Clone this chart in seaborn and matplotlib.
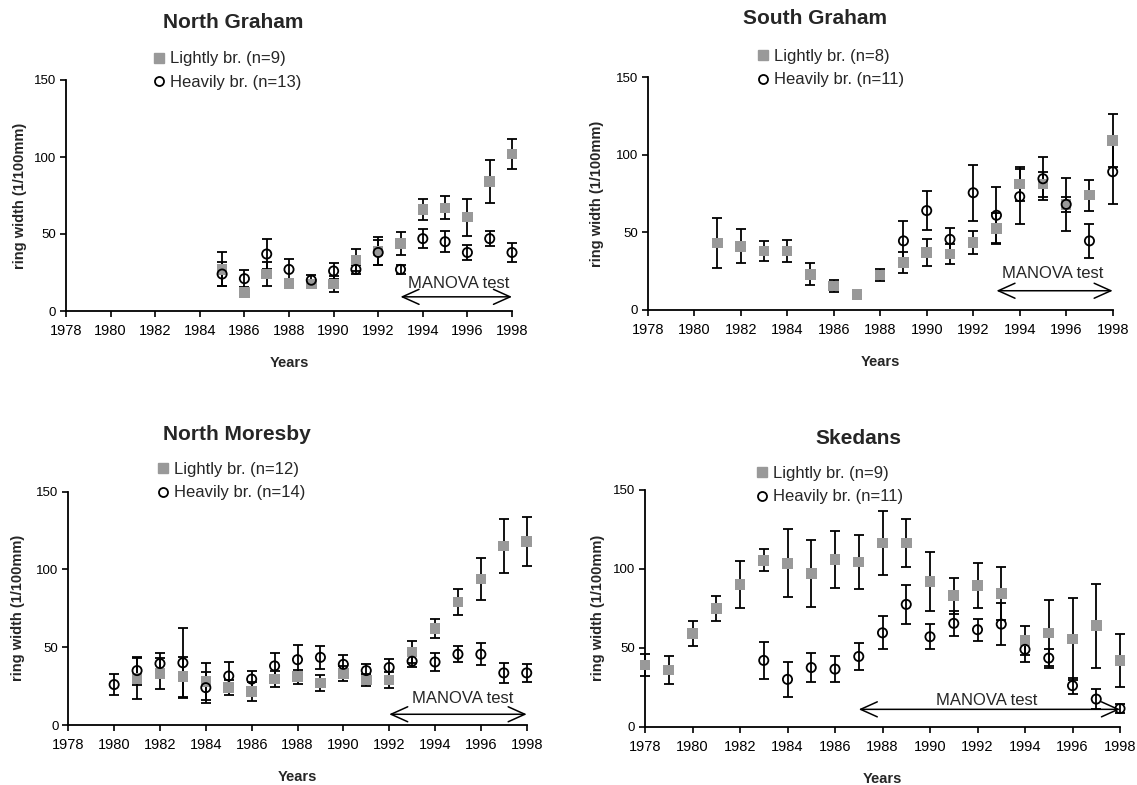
import numpy as np
import seaborn as sns
import matplotlib.pyplot as plt
from matplotlib.lines import Line2D

# North Graham
ng_years_l = [1985, 1986, 1987, 1988, 1989, 1990, 1991, 1992, 1993, 1994, 1995, 1996, 1997, 1998]
ng_light = [27, 12, 24, 18, 17.5, 17.5, 33, 39, 44, 66, 67, 61, 84, 102]
ng_light_err = [11, 1, 8, 2, 2, 5, 7, 9, 7.5, 7, 7.5, 12, 14, 10]
ng_years_h = [1985, 1986, 1987, 1988, 1989, 1990, 1991, 1992, 1993, 1994, 1995, 1996, 1997, 1998]
ng_heavy = [24, 21, 37, 27, 20, 26, 27, 38, 27, 47, 45, 38, 47, 38]
ng_heavy_err = [8, 5.5, 10, 7, 3.5, 5, 3, 8, 3, 6, 7, 5, 5, 6]

# South Graham
sg_years_l = [1981, 1982, 1983, 1984, 1985, 1986, 1987, 1988, 1989, 1990, 1991, 1992, 1993,
              1994, 1995, 1996, 1997, 1998]
sg_light = [43, 41, 38, 38, 23, 15.5, 10, 22.5, 30.5, 37, 36, 43.5, 52.5, 81, 81, 68, 74, 109]
sg_light_err = [16, 11, 6.5, 7, 7, 4, 0.5, 4, 7, 8.5, 6.5, 7.5, 10, 11, 8, 5, 10, 17]
sg_years_h = [1989, 1990, 1991, 1992, 1993, 1994, 1995, 1996, 1997, 1998]
sg_heavy = [44.5, 64, 45.5, 75.5, 61, 73, 84.5, 68, 44.5, 89]
sg_heavy_err = [12.5, 12.5, 7, 18, 18, 17.5, 14, 17, 11, 21]

# North Moresby
nm_years_l = [1981, 1982, 1983, 1984, 1985, 1986, 1987, 1988, 1989, 1990, 1991, 1992, 1993,
              1994, 1995, 1996, 1997, 1998]
nm_light = [30, 33, 31, 28, 24, 21.5, 29.5, 31, 27, 33, 29, 29, 47, 62, 79, 94, 115, 118]
nm_light_err = [13, 10, 13, 12, 5, 6, 5, 4.5, 5, 5, 4, 5, 7, 6, 8.5, 13.5, 17.5, 16]
nm_years_h = [1980, 1981, 1982, 1983, 1984, 1985, 1986, 1987, 1988, 1989, 1990, 1991, 1992,
              1993, 1994, 1995, 1996, 1997, 1998]
nm_heavy = [26, 35, 39.5, 40, 24, 31.5, 29.5, 38, 42, 43.5, 39, 35, 37, 41, 40.5, 45.5, 45.5, 33.5, 33.5]
nm_heavy_err = [7, 9, 6.5, 22.5, 10, 9, 5, 8, 9.5, 7.5, 6, 4, 5.5, 4, 5.5, 5, 7, 6.5, 6]

# Skedans
sk_years_l = list(range(1978, 1999))
sk_light = [39, 36, 59, 75, 90, 105.5, 103.5, 97, 106, 104.5, 116.5, 116.5, 92, 83, 89.5, 84.5,
            54.5, 59.5, 55.5, 64, 42]
sk_light_err = [7, 9, 8, 8, 15, 7, 21.5, 21, 18, 17, 20.5, 15, 18.5, 11.5, 14, 17, 9, 21, 26, 26.5, 17]
sk_years_h = list(range(1983, 1999))
sk_heavy = [42, 30, 37.5, 36.5, 44.5, 59.5, 77.5, 57, 65.5, 61.5, 65, 49, 43.5, 26, 17.5, 11.5]
sk_heavy_err = [11.5, 11, 9, 8, 8.5, 10.5, 12.5, 8, 8, 7, 13.5, 8, 6, 5, 6.5, 3]

W, H = 1137, 785
GREY = "#999999"

sns.set_style("ticks")
plt.rcParams["font.family"] = ["Liberation Sans", "DejaVu Sans"]

fig = plt.figure(figsize=(W / 100, H / 100), dpi=100)


def px_axes(left, right, top, bottom):
    return fig.add_axes([left / W, 1 - bottom / H, (right - left) / W, (bottom - top) / H])


def draw_panel(ax, title, title_xy, yl, l, le, yh, h, he, n_l, n_h, leg_xy,
               manova_range, manova_y, manova_txt, ylab_x):
    ax.errorbar(yl, l, yerr=le, fmt="none", ecolor="black", elinewidth=1.3,
                capsize=3.6, capthick=1.3, zorder=2, clip_on=False)
    ax.errorbar(yh, h, yerr=he, fmt="none", ecolor="black", elinewidth=1.3,
                capsize=3.6, capthick=1.3, zorder=2, clip_on=False)
    sns.scatterplot(x=yl, y=l, marker="s", color=GREY, s=58, edgecolor="none",
                    ax=ax, zorder=3, clip_on=False, legend=False)
    sns.scatterplot(x=yh, y=h, marker="o", s=44, facecolor="none", edgecolor="black",
                    linewidth=1.3, ax=ax, zorder=4, clip_on=False, legend=False)

    ax.set_xlim(1978, 1998)
    ax.set_ylim(0, 150)
    ax.set_xticks(np.arange(1978, 1999, 2))
    ax.set_yticks([0, 50, 100, 150])
    sns.despine(ax=ax)
    for s in ("left", "bottom"):
        ax.spines[s].set_linewidth(1.3)
        ax.spines[s].set_color("black")
    ax.tick_params(direction="out", length=4, width=1.2, color="black",
                   labelcolor="black")
    ax.tick_params(axis="x", labelsize=10.5, pad=5.5)
    ax.tick_params(axis="y", labelsize=9.5, pad=3)
    ax.set_xlabel("Years", fontsize=10.5, fontweight="bold")
    ax.set_ylabel("ring width (1/100mm)", fontsize=10.5, fontweight="bold")
    h_px = ax.get_position().height * H
    ax.xaxis.set_label_coords(0.5, -45 / h_px)
    ax.yaxis.set_label_coords(ylab_x, 0.5)

    # MANOVA window
    ax.annotate("", xy=(manova_range[1], manova_y), xytext=(manova_range[0], manova_y),
                arrowprops=dict(arrowstyle="<->,head_length=1.0,head_width=0.45",
                                mutation_scale=12, lw=1.1, color="black",
                                shrinkA=0, shrinkB=0), annotation_clip=False)
    ax.text(manova_txt[0], manova_txt[1], "MANOVA test", fontsize=12,
            ha="center", va="center")

    fig.text(title_xy[0] / W, 1 - title_xy[1] / H, title, fontsize=15,
             fontweight="bold", ha="center", va="center")

    handles = [
        Line2D([], [], marker="s", color=GREY, linestyle="none", markersize=7.5),
        Line2D([], [], marker="o", markerfacecolor="none", markeredgecolor="black",
               markeredgewidth=1.3, linestyle="none", markersize=6.5),
    ]
    ax.legend(handles, [f"Lightly br. (n={n_l})", f"Heavily br. (n={n_h})"],
              loc="upper left", bbox_to_anchor=(leg_xy[0] / W, 1 - leg_xy[1] / H),
              bbox_transform=fig.transFigure, frameon=False, fontsize=12,
              handlelength=0.8, handletextpad=0.3, labelspacing=0.5,
              borderpad=0, borderaxespad=0)


ax1 = px_axes(66, 512, 80, 311)
draw_panel(ax1, "North Graham", (233, 22), ng_years_l, ng_light, ng_light_err,
           ng_years_h, ng_heavy, ng_heavy_err, 9, 13, (152, 51.5),
           (1993, 1998), 9.2, (1995.6, 18), -0.087)

ax2 = px_axes(647.7, 1112.7, 77, 310)
draw_panel(ax2, "South Graham", (815, 18), sg_years_l, sg_light, sg_light_err,
           sg_years_h, sg_heavy, sg_heavy_err, 8, 11, (756, 49),
           (1993, 1998), 12.4, (1995.4, 23.6), -0.094)

ax3 = px_axes(68.3, 526.7, 491.7, 725)
draw_panel(ax3, "North Moresby", (237, 435), nm_years_l, nm_light, nm_light_err,
           nm_years_h, nm_heavy, nm_heavy_err, 12, 14, (156, 462),
           (1992, 1998), 6.9, (1995.2, 17.2), -0.095)

ax4 = px_axes(645, 1120, 490, 726.7)
draw_panel(ax4, "Skedans", (858, 438), sk_years_l, sk_light, sk_light_err,
           sk_years_h, sk_heavy, sk_heavy_err, 9, 11, (755, 466),
           (1987, 1998), 11, (1992.4, 16.9), -0.084)

fig.savefig("out.png", dpi=100)
